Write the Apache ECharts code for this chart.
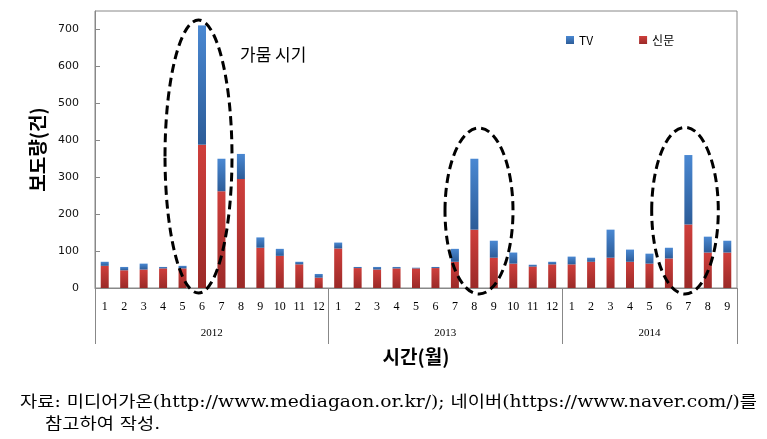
<!DOCTYPE html>
<html><head><meta charset="utf-8">
<script src="https://cdn.jsdelivr.net/npm/echarts@6/dist/echarts.min.js"></script>
<style>html,body{margin:0;padding:0;background:#fff}#c{width:767px;height:439px}</style>
</head><body><div id="c"></div>
<script>
const months = ['1','2','3','4','5','6','7','8','9','10','11','12','1','2','3','4','5','6','7','8','9','10','11','12','1','2','3','4','5','6','7','8','9'];
const years = ['2012','2013','2014'];
const yearStarts = [0,12,24,33];
const paper = [60,48,50,53,53,388,262,295,109,87,64,28, 107,54,50,53,53,54,71,158,82,66,58,64, 64,71,82,71,66,80,172,96,96];
const tv = [11,9,16,4,7,323,88,68,28,19,7,10, 16,3,7,4,2,3,35,192,46,30,5,7, 21,11,76,33,27,29,188,43,32];
const yTicks = [0,100,200,300,400,500,600,700];

const chart = echarts.init(document.getElementById('c'));
const redGrad = new echarts.graphic.LinearGradient(0,0,0,1,[{offset:0,color:'#cf3f3c'},{offset:1,color:'#9b2a28'}]);
const blueGrad = new echarts.graphic.LinearGradient(0,0,0,1,[{offset:0,color:'#4a88d2'},{offset:1,color:'#2c5c98'}]);
const yearMid = years.map((y,i)=>(yearStarts[i]+yearStarts[i+1])/2);
const ell = (cx,cy,rx,ry)=>({type:'ellipse',shape:{cx,cy,rx,ry},style:{fill:null,stroke:'#000',lineWidth:3,lineDash:[9,5]},z:100});
const footFont = 'DejaVu Serif, Noto Sans CJK KR';
chart.setOption({
  animation:false,
  grid:{left:95,right:30,top:11,bottom:151,show:true,borderColor:'#888',borderWidth:1},
  legend:{data:['TV','신문'],left:561,top:29,itemWidth:8,itemHeight:8,itemGap:46,icon:'rect',
    textStyle:{color:'#000',fontSize:12,fontFamily:'Noto Sans CJK KR'}},
  xAxis:[
    {type:'category',data:months,boundaryGap:true,position:'bottom',
     axisLine:{lineStyle:{color:'#888'}},
     axisTick:{interval:0,length:30,lineStyle:{color:'#888'}},
     axisLabel:{interval:0,margin:13,color:'#000',fontSize:12,fontFamily:'Liberation Serif'}},
    {type:'value',min:0,max:33,position:'bottom',
     axisLine:{show:false},splitLine:{show:false},
     axisTick:{show:true,customValues:yearStarts,length:56,lineStyle:{color:'#888'}},
     axisLabel:{customValues:yearMid,margin:40,color:'#000',fontSize:11,fontFamily:'Liberation Serif',
       formatter:(v)=>{const i=yearMid.indexOf(v);return i>=0?years[i]:'';}},
     name:'시간(월)',nameLocation:'middle',nameGap:59,
     nameTextStyle:{fontSize:19,fontWeight:'bold',color:'#000',fontFamily:'Noto Sans CJK KR'}}
  ],
  yAxis:{type:'value',min:0,max:750,interval:100,
    axisLine:{show:true,lineStyle:{color:'#888'}},
    axisTick:{show:true,inside:true,length:5,customValues:yTicks,lineStyle:{color:'#888'}},
    splitLine:{show:false},
    axisLabel:{customValues:yTicks,margin:16,color:'#111',fontSize:11,fontFamily:'DejaVu Sans'},
    name:'보도량(건)',nameLocation:'middle',nameGap:42,nameRotate:90,
    nameTextStyle:{fontSize:19,fontWeight:'bold',color:'#000',fontFamily:'Noto Sans CJK KR'}},
  series:[
    {name:'신문',type:'bar',stack:'a',data:paper,barWidth:8,itemStyle:{color:redGrad},xAxisIndex:0},
    {name:'TV',type:'bar',stack:'a',data:tv,barWidth:8,itemStyle:{color:blueGrad},xAxisIndex:0}
  ],
  graphic:[
    ell(198.5,156.5,33.5,136.5),
    ell(479,211,34,83),
    ell(685,210.7,33.3,83.3),
    {type:'text',left:240,top:46,style:{text:'가뭄 시기',fontSize:17,fill:'#000',fontFamily:'Noto Sans CJK KR'}},
    {type:'text',x:20,y:395,scaleX:1.17,style:{text:'자료: 미디어가온(http://www.mediagaon.or.kr/); 네이버(https://www.naver.com/)를',fontSize:16,fill:'#000',fontFamily:footFont}},
    {type:'text',x:45,y:417,scaleX:1.17,style:{text:'참고하여 작성.',fontSize:16,fill:'#000',fontFamily:footFont}}
  ]
});
</script></body></html>
